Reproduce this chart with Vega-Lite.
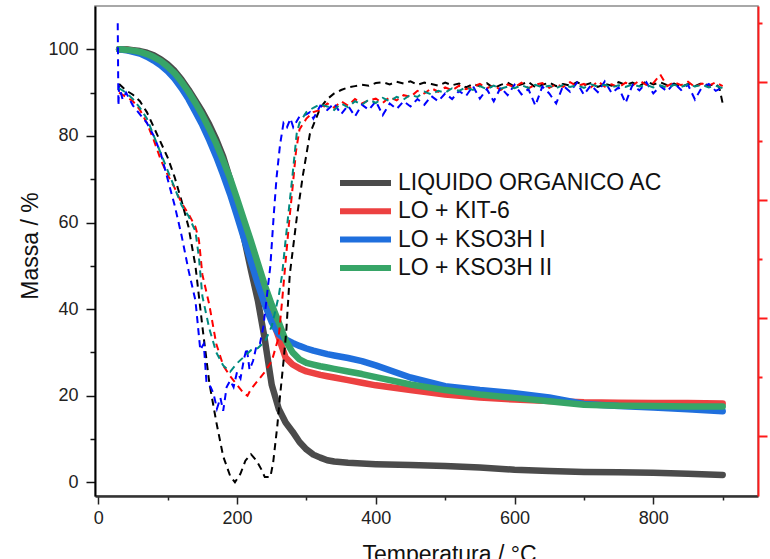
{
"$schema": "https://vega.github.io/schema/vega-lite/v6.json",
"width": 663, "height": 490,
"autosize": "none",
"padding": {"left": 95, "top": 6, "right": 12, "bottom": 63},
"background": "white",
"config": {"view": {"stroke": "#8c8c8c", "strokeWidth": 1.5}, "font": "Liberation Sans"},
"datasets": {
"tga": [
{"sample":"LIQUIDO ORGANICO AC","T":30,"mass":100},{"sample":"LIQUIDO ORGANICO AC","T":40,"mass":100},{"sample":"LIQUIDO ORGANICO AC","T":50,"mass":99.8},{"sample":"LIQUIDO ORGANICO AC","T":60,"mass":99.6},{"sample":"LIQUIDO ORGANICO AC","T":70,"mass":99.2},{"sample":"LIQUIDO ORGANICO AC","T":80,"mass":98.6},{"sample":"LIQUIDO ORGANICO AC","T":90,"mass":97.7},{"sample":"LIQUIDO ORGANICO AC","T":100,"mass":96.5},{"sample":"LIQUIDO ORGANICO AC","T":110,"mass":95},{"sample":"LIQUIDO ORGANICO AC","T":120,"mass":93},{"sample":"LIQUIDO ORGANICO AC","T":130,"mass":90.7},{"sample":"LIQUIDO ORGANICO AC","T":140,"mass":88.2},{"sample":"LIQUIDO ORGANICO AC","T":150,"mass":85.6},{"sample":"LIQUIDO ORGANICO AC","T":160,"mass":82.6},{"sample":"LIQUIDO ORGANICO AC","T":170,"mass":79.2},{"sample":"LIQUIDO ORGANICO AC","T":180,"mass":75.2},{"sample":"LIQUIDO ORGANICO AC","T":190,"mass":70},{"sample":"LIQUIDO ORGANICO AC","T":200,"mass":63.5},{"sample":"LIQUIDO ORGANICO AC","T":210,"mass":56.5},{"sample":"LIQUIDO ORGANICO AC","T":220,"mass":49},{"sample":"LIQUIDO ORGANICO AC","T":230,"mass":42},{"sample":"LIQUIDO ORGANICO AC","T":240,"mass":33},{"sample":"LIQUIDO ORGANICO AC","T":250,"mass":22.5},{"sample":"LIQUIDO ORGANICO AC","T":260,"mass":17},{"sample":"LIQUIDO ORGANICO AC","T":270,"mass":13.8},{"sample":"LIQUIDO ORGANICO AC","T":280,"mass":11.7},{"sample":"LIQUIDO ORGANICO AC","T":290,"mass":9.3},{"sample":"LIQUIDO ORGANICO AC","T":300,"mass":7.6},{"sample":"LIQUIDO ORGANICO AC","T":310,"mass":6.4},{"sample":"LIQUIDO ORGANICO AC","T":320,"mass":5.7},{"sample":"LIQUIDO ORGANICO AC","T":330,"mass":5.1},{"sample":"LIQUIDO ORGANICO AC","T":340,"mass":4.8},{"sample":"LIQUIDO ORGANICO AC","T":360,"mass":4.5},{"sample":"LIQUIDO ORGANICO AC","T":380,"mass":4.35},{"sample":"LIQUIDO ORGANICO AC","T":400,"mass":4.2},{"sample":"LIQUIDO ORGANICO AC","T":450,"mass":4.0},{"sample":"LIQUIDO ORGANICO AC","T":500,"mass":3.75},{"sample":"LIQUIDO ORGANICO AC","T":550,"mass":3.4},{"sample":"LIQUIDO ORGANICO AC","T":600,"mass":2.9},{"sample":"LIQUIDO ORGANICO AC","T":650,"mass":2.6},{"sample":"LIQUIDO ORGANICO AC","T":700,"mass":2.4},{"sample":"LIQUIDO ORGANICO AC","T":750,"mass":2.3},{"sample":"LIQUIDO ORGANICO AC","T":800,"mass":2.2},{"sample":"LIQUIDO ORGANICO AC","T":850,"mass":2.0},{"sample":"LIQUIDO ORGANICO AC","T":900,"mass":1.7},
{"sample":"LO + KIT-6","T":30,"mass":100},{"sample":"LO + KIT-6","T":40,"mass":99.9},{"sample":"LO + KIT-6","T":50,"mass":99.6},{"sample":"LO + KIT-6","T":60,"mass":99.3},{"sample":"LO + KIT-6","T":70,"mass":98.8},{"sample":"LO + KIT-6","T":80,"mass":98},{"sample":"LO + KIT-6","T":90,"mass":97},{"sample":"LO + KIT-6","T":100,"mass":95.6},{"sample":"LO + KIT-6","T":110,"mass":94},{"sample":"LO + KIT-6","T":120,"mass":92},{"sample":"LO + KIT-6","T":130,"mass":89.5},{"sample":"LO + KIT-6","T":140,"mass":86.8},{"sample":"LO + KIT-6","T":150,"mass":84},{"sample":"LO + KIT-6","T":160,"mass":80.5},{"sample":"LO + KIT-6","T":170,"mass":76.8},{"sample":"LO + KIT-6","T":180,"mass":72.5},{"sample":"LO + KIT-6","T":190,"mass":68},{"sample":"LO + KIT-6","T":200,"mass":63},{"sample":"LO + KIT-6","T":210,"mass":58},{"sample":"LO + KIT-6","T":220,"mass":53},{"sample":"LO + KIT-6","T":230,"mass":48},{"sample":"LO + KIT-6","T":240,"mass":43},{"sample":"LO + KIT-6","T":250,"mass":38},{"sample":"LO + KIT-6","T":260,"mass":33.5},{"sample":"LO + KIT-6","T":270,"mass":28.8},{"sample":"LO + KIT-6","T":280,"mass":27.2},{"sample":"LO + KIT-6","T":290,"mass":26.3},{"sample":"LO + KIT-6","T":300,"mass":25.6},{"sample":"LO + KIT-6","T":310,"mass":25.2},{"sample":"LO + KIT-6","T":320,"mass":24.8},{"sample":"LO + KIT-6","T":330,"mass":24.5},{"sample":"LO + KIT-6","T":340,"mass":24.2},{"sample":"LO + KIT-6","T":360,"mass":23.6},{"sample":"LO + KIT-6","T":380,"mass":23},{"sample":"LO + KIT-6","T":400,"mass":22.4},{"sample":"LO + KIT-6","T":450,"mass":21.3},{"sample":"LO + KIT-6","T":500,"mass":20.3},{"sample":"LO + KIT-6","T":550,"mass":19.6},{"sample":"LO + KIT-6","T":600,"mass":19.1},{"sample":"LO + KIT-6","T":650,"mass":18.8},{"sample":"LO + KIT-6","T":700,"mass":18.5},{"sample":"LO + KIT-6","T":750,"mass":18.4},{"sample":"LO + KIT-6","T":800,"mass":18.3},{"sample":"LO + KIT-6","T":850,"mass":18.3},{"sample":"LO + KIT-6","T":900,"mass":18.2},
{"sample":"LO + KSO3H I","T":30,"mass":100},{"sample":"LO + KSO3H I","T":40,"mass":99.8},{"sample":"LO + KSO3H I","T":50,"mass":99.4},{"sample":"LO + KSO3H I","T":60,"mass":99},{"sample":"LO + KSO3H I","T":70,"mass":98.3},{"sample":"LO + KSO3H I","T":80,"mass":97.4},{"sample":"LO + KSO3H I","T":90,"mass":96.3},{"sample":"LO + KSO3H I","T":100,"mass":94.9},{"sample":"LO + KSO3H I","T":110,"mass":93.2},{"sample":"LO + KSO3H I","T":120,"mass":91},{"sample":"LO + KSO3H I","T":130,"mass":88.5},{"sample":"LO + KSO3H I","T":140,"mass":85.5},{"sample":"LO + KSO3H I","T":150,"mass":82.5},{"sample":"LO + KSO3H I","T":160,"mass":79},{"sample":"LO + KSO3H I","T":170,"mass":75.2},{"sample":"LO + KSO3H I","T":180,"mass":71},{"sample":"LO + KSO3H I","T":190,"mass":66.5},{"sample":"LO + KSO3H I","T":200,"mass":61.5},{"sample":"LO + KSO3H I","T":210,"mass":56.3},{"sample":"LO + KSO3H I","T":220,"mass":51},{"sample":"LO + KSO3H I","T":230,"mass":45.8},{"sample":"LO + KSO3H I","T":240,"mass":41},{"sample":"LO + KSO3H I","T":250,"mass":37},{"sample":"LO + KSO3H I","T":260,"mass":34.2},{"sample":"LO + KSO3H I","T":270,"mass":33},{"sample":"LO + KSO3H I","T":280,"mass":32.2},{"sample":"LO + KSO3H I","T":290,"mass":31.5},{"sample":"LO + KSO3H I","T":300,"mass":30.9},{"sample":"LO + KSO3H I","T":310,"mass":30.4},{"sample":"LO + KSO3H I","T":320,"mass":30},{"sample":"LO + KSO3H I","T":330,"mass":29.6},{"sample":"LO + KSO3H I","T":340,"mass":29.3},{"sample":"LO + KSO3H I","T":360,"mass":28.7},{"sample":"LO + KSO3H I","T":380,"mass":28},{"sample":"LO + KSO3H I","T":400,"mass":27},{"sample":"LO + KSO3H I","T":450,"mass":24.2},{"sample":"LO + KSO3H I","T":500,"mass":22.2},{"sample":"LO + KSO3H I","T":550,"mass":21.3},{"sample":"LO + KSO3H I","T":600,"mass":20.6},{"sample":"LO + KSO3H I","T":650,"mass":19.6},{"sample":"LO + KSO3H I","T":700,"mass":18.1},{"sample":"LO + KSO3H I","T":750,"mass":17.6},{"sample":"LO + KSO3H I","T":800,"mass":17.3},{"sample":"LO + KSO3H I","T":850,"mass":16.9},{"sample":"LO + KSO3H I","T":900,"mass":16.4},
{"sample":"LO + KSO3H II","T":30,"mass":100},{"sample":"LO + KSO3H II","T":40,"mass":99.9},{"sample":"LO + KSO3H II","T":50,"mass":99.7},{"sample":"LO + KSO3H II","T":60,"mass":99.4},{"sample":"LO + KSO3H II","T":70,"mass":98.9},{"sample":"LO + KSO3H II","T":80,"mass":98.2},{"sample":"LO + KSO3H II","T":90,"mass":97.3},{"sample":"LO + KSO3H II","T":100,"mass":96},{"sample":"LO + KSO3H II","T":110,"mass":94.5},{"sample":"LO + KSO3H II","T":120,"mass":92.5},{"sample":"LO + KSO3H II","T":130,"mass":90.2},{"sample":"LO + KSO3H II","T":140,"mass":87.6},{"sample":"LO + KSO3H II","T":150,"mass":84.8},{"sample":"LO + KSO3H II","T":160,"mass":81.6},{"sample":"LO + KSO3H II","T":170,"mass":78.2},{"sample":"LO + KSO3H II","T":180,"mass":74.3},{"sample":"LO + KSO3H II","T":190,"mass":70.2},{"sample":"LO + KSO3H II","T":200,"mass":65.5},{"sample":"LO + KSO3H II","T":210,"mass":60.6},{"sample":"LO + KSO3H II","T":220,"mass":55.7},{"sample":"LO + KSO3H II","T":230,"mass":50.6},{"sample":"LO + KSO3H II","T":240,"mass":45.5},{"sample":"LO + KSO3H II","T":250,"mass":41},{"sample":"LO + KSO3H II","T":260,"mass":37},{"sample":"LO + KSO3H II","T":270,"mass":32.8},{"sample":"LO + KSO3H II","T":280,"mass":30},{"sample":"LO + KSO3H II","T":290,"mass":28.4},{"sample":"LO + KSO3H II","T":300,"mass":27.6},{"sample":"LO + KSO3H II","T":310,"mass":27.2},{"sample":"LO + KSO3H II","T":320,"mass":26.8},{"sample":"LO + KSO3H II","T":330,"mass":26.5},{"sample":"LO + KSO3H II","T":340,"mass":26.2},{"sample":"LO + KSO3H II","T":360,"mass":25.6},{"sample":"LO + KSO3H II","T":380,"mass":25},{"sample":"LO + KSO3H II","T":400,"mass":24.3},{"sample":"LO + KSO3H II","T":450,"mass":22.6},{"sample":"LO + KSO3H II","T":500,"mass":21.3},{"sample":"LO + KSO3H II","T":550,"mass":20.3},{"sample":"LO + KSO3H II","T":600,"mass":19.5},{"sample":"LO + KSO3H II","T":650,"mass":18.7},{"sample":"LO + KSO3H II","T":700,"mass":17.9},{"sample":"LO + KSO3H II","T":750,"mass":17.7},{"sample":"LO + KSO3H II","T":800,"mass":17.6},{"sample":"LO + KSO3H II","T":850,"mass":17.5},{"sample":"LO + KSO3H II","T":900,"mass":17.5}
],
"dtg": [
{"s":"K","T":30,"d":92},{"s":"K","T":40,"d":90.5},{"s":"K","T":50,"d":89.5},{"s":"K","T":60,"d":88},{"s":"K","T":70,"d":85.5},{"s":"K","T":80,"d":82},{"s":"K","T":90,"d":78.5},{"s":"K","T":100,"d":75},{"s":"K","T":110,"d":70.5},{"s":"K","T":120,"d":65},{"s":"K","T":130,"d":59},{"s":"K","T":140,"d":50},{"s":"K","T":150,"d":36},{"s":"K","T":160,"d":23},{"s":"K","T":170,"d":14},{"s":"K","T":180,"d":6},{"s":"K","T":190,"d":1.5},{"s":"K","T":197,"d":0},{"s":"K","T":205,"d":2},{"s":"K","T":212,"d":5},{"s":"K","T":220,"d":6.5},{"s":"K","T":228,"d":5},{"s":"K","T":235,"d":3},{"s":"K","T":240,"d":1.2},{"s":"K","T":248,"d":1.2},{"s":"K","T":252,"d":4.5},{"s":"K","T":258,"d":13},{"s":"K","T":262,"d":20},{"s":"K","T":267,"d":28},{"s":"K","T":271,"d":35},{"s":"K","T":276,"d":48},{"s":"K","T":286,"d":61},{"s":"K","T":295,"d":71},{"s":"K","T":305,"d":80.5},{"s":"K","T":320,"d":86.5},{"s":"K","T":330,"d":88.5},{"s":"K","T":340,"d":89.8},{"s":"K","T":350,"d":90.6},{"s":"K","T":360,"d":91.2},{"s":"K","T":370,"d":91.5},{"s":"K","T":380,"d":91.8},{"s":"K","T":390,"d":91.6},{"s":"K","T":400,"d":92.2},{"s":"K","T":410,"d":92.4},{"s":"K","T":420,"d":91.9},{"s":"K","T":430,"d":92.5},{"s":"K","T":440,"d":92.1},{"s":"K","T":450,"d":92.6},{"s":"K","T":460,"d":91.8},{"s":"K","T":470,"d":92.3},{"s":"K","T":480,"d":92},{"s":"K","T":490,"d":91.6},{"s":"K","T":500,"d":92.3},{"s":"K","T":510,"d":91.7},{"s":"K","T":520,"d":92.1},{"s":"K","T":530,"d":91.2},{"s":"K","T":540,"d":92},{"s":"K","T":550,"d":91.5},{"s":"K","T":560,"d":92.2},{"s":"K","T":570,"d":91},{"s":"K","T":580,"d":91.8},{"s":"K","T":590,"d":92.3},{"s":"K","T":600,"d":91.4},{"s":"K","T":610,"d":91.9},{"s":"K","T":620,"d":92.5},{"s":"K","T":630,"d":91.2},{"s":"K","T":640,"d":91.8},{"s":"K","T":650,"d":92.3},{"s":"K","T":660,"d":91.5},{"s":"K","T":670,"d":92},{"s":"K","T":680,"d":91.6},{"s":"K","T":690,"d":92.4},{"s":"K","T":700,"d":91.7},{"s":"K","T":710,"d":92.2},{"s":"K","T":720,"d":91.3},{"s":"K","T":730,"d":92},{"s":"K","T":740,"d":91.6},{"s":"K","T":750,"d":92.4},{"s":"K","T":760,"d":91.8},{"s":"K","T":770,"d":92.3},{"s":"K","T":780,"d":91.5},{"s":"K","T":790,"d":92.6},{"s":"K","T":800,"d":91.9},{"s":"K","T":810,"d":92.4},{"s":"K","T":820,"d":91.7},{"s":"K","T":830,"d":92.1},{"s":"K","T":840,"d":91.3},{"s":"K","T":850,"d":92},{"s":"K","T":860,"d":91.5},{"s":"K","T":870,"d":92.2},{"s":"K","T":880,"d":91.6},{"s":"K","T":890,"d":92},{"s":"K","T":895,"d":91.2},{"s":"K","T":900,"d":87.5},
{"s":"R","T":30,"d":90},{"s":"R","T":40,"d":89},{"s":"R","T":50,"d":88},{"s":"R","T":60,"d":86},{"s":"R","T":70,"d":83},{"s":"R","T":80,"d":79},{"s":"R","T":90,"d":74.5},{"s":"R","T":100,"d":71},{"s":"R","T":110,"d":68},{"s":"R","T":120,"d":64.5},{"s":"R","T":130,"d":62},{"s":"R","T":140,"d":59},{"s":"R","T":145,"d":56},{"s":"R","T":150,"d":48},{"s":"R","T":160,"d":41},{"s":"R","T":170,"d":32},{"s":"R","T":180,"d":27},{"s":"R","T":190,"d":24.5},{"s":"R","T":200,"d":22.5},{"s":"R","T":210,"d":20.5},{"s":"R","T":215,"d":20},{"s":"R","T":220,"d":21.5},{"s":"R","T":230,"d":23.5},{"s":"R","T":240,"d":25.5},{"s":"R","T":250,"d":28},{"s":"R","T":260,"d":33.5},{"s":"R","T":265,"d":42},{"s":"R","T":270,"d":51},{"s":"R","T":275,"d":60},{"s":"R","T":280,"d":68},{"s":"R","T":285,"d":76.5},{"s":"R","T":290,"d":81.5},{"s":"R","T":300,"d":84},{"s":"R","T":310,"d":85.5},{"s":"R","T":320,"d":86},{"s":"R","T":330,"d":87.5},{"s":"R","T":340,"d":86.5},{"s":"R","T":350,"d":88},{"s":"R","T":360,"d":87},{"s":"R","T":370,"d":88.5},{"s":"R","T":380,"d":87.5},{"s":"R","T":390,"d":88.2},{"s":"R","T":400,"d":88.6},{"s":"R","T":410,"d":87.6},{"s":"R","T":420,"d":89},{"s":"R","T":430,"d":88.2},{"s":"R","T":440,"d":89.4},{"s":"R","T":450,"d":89},{"s":"R","T":460,"d":90.4},{"s":"R","T":470,"d":89.8},{"s":"R","T":480,"d":91},{"s":"R","T":490,"d":90.2},{"s":"R","T":500,"d":91.2},{"s":"R","T":510,"d":90.5},{"s":"R","T":520,"d":91.6},{"s":"R","T":530,"d":90.8},{"s":"R","T":540,"d":91.4},{"s":"R","T":550,"d":92},{"s":"R","T":560,"d":91},{"s":"R","T":570,"d":91.7},{"s":"R","T":580,"d":90.6},{"s":"R","T":590,"d":91.9},{"s":"R","T":600,"d":91.2},{"s":"R","T":610,"d":92.3},{"s":"R","T":620,"d":91},{"s":"R","T":630,"d":91.8},{"s":"R","T":640,"d":92.2},{"s":"R","T":650,"d":91.1},{"s":"R","T":660,"d":91.9},{"s":"R","T":670,"d":91.3},{"s":"R","T":680,"d":92.4},{"s":"R","T":690,"d":91.5},{"s":"R","T":700,"d":92},{"s":"R","T":710,"d":91.2},{"s":"R","T":720,"d":92.6},{"s":"R","T":730,"d":91.4},{"s":"R","T":740,"d":91.9},{"s":"R","T":750,"d":91.2},{"s":"R","T":760,"d":92.3},{"s":"R","T":770,"d":91.6},{"s":"R","T":780,"d":92.8},{"s":"R","T":790,"d":91.8},{"s":"R","T":800,"d":92.2},{"s":"R","T":810,"d":94.2},{"s":"R","T":820,"d":91.5},{"s":"R","T":830,"d":92.4},{"s":"R","T":840,"d":91.7},{"s":"R","T":850,"d":92.5},{"s":"R","T":860,"d":91.3},{"s":"R","T":870,"d":92.1},{"s":"R","T":880,"d":91.6},{"s":"R","T":890,"d":92.4},{"s":"R","T":900,"d":91.5},
{"s":"B","T":28,"d":106},{"s":"B","T":29,"d":87},{"s":"B","T":30,"d":91.5},{"s":"B","T":35,"d":88.5},{"s":"B","T":40,"d":90},{"s":"B","T":50,"d":87},{"s":"B","T":60,"d":85},{"s":"B","T":70,"d":83},{"s":"B","T":80,"d":80},{"s":"B","T":90,"d":76},{"s":"B","T":100,"d":70},{"s":"B","T":110,"d":64},{"s":"B","T":120,"d":57},{"s":"B","T":130,"d":49},{"s":"B","T":140,"d":42},{"s":"B","T":147,"d":30.6},{"s":"B","T":152,"d":32},{"s":"B","T":156,"d":23},{"s":"B","T":162,"d":22},{"s":"B","T":166,"d":20.5},{"s":"B","T":171,"d":17},{"s":"B","T":176,"d":19.5},{"s":"B","T":180,"d":16.5},{"s":"B","T":185,"d":22},{"s":"B","T":190,"d":23.5},{"s":"B","T":195,"d":22},{"s":"B","T":200,"d":25.5},{"s":"B","T":205,"d":24},{"s":"B","T":210,"d":28.5},{"s":"B","T":214,"d":31},{"s":"B","T":218,"d":26},{"s":"B","T":223,"d":28},{"s":"B","T":228,"d":31.5},{"s":"B","T":233,"d":32},{"s":"B","T":238,"d":36},{"s":"B","T":243,"d":43},{"s":"B","T":248,"d":50},{"s":"B","T":253,"d":62},{"s":"B","T":257,"d":70.5},{"s":"B","T":262,"d":78},{"s":"B","T":267,"d":83},{"s":"B","T":272,"d":82},{"s":"B","T":277,"d":84},{"s":"B","T":281,"d":82},{"s":"B","T":290,"d":84.5},{"s":"B","T":300,"d":85},{"s":"B","T":305,"d":85.5},{"s":"B","T":310,"d":84},{"s":"B","T":320,"d":87},{"s":"B","T":330,"d":86},{"s":"B","T":340,"d":87.5},{"s":"B","T":350,"d":85},{"s":"B","T":360,"d":87},{"s":"B","T":370,"d":84.5},{"s":"B","T":380,"d":87.2},{"s":"B","T":390,"d":86},{"s":"B","T":400,"d":88},{"s":"B","T":410,"d":84.8},{"s":"B","T":420,"d":87.5},{"s":"B","T":430,"d":86.2},{"s":"B","T":440,"d":88},{"s":"B","T":450,"d":86.8},{"s":"B","T":460,"d":88.5},{"s":"B","T":470,"d":87.2},{"s":"B","T":480,"d":89.2},{"s":"B","T":490,"d":88},{"s":"B","T":500,"d":89.8},{"s":"B","T":510,"d":88.5},{"s":"B","T":520,"d":90.4},{"s":"B","T":530,"d":89.2},{"s":"B","T":540,"d":91.5},{"s":"B","T":550,"d":88.6},{"s":"B","T":560,"d":90.8},{"s":"B","T":570,"d":88},{"s":"B","T":580,"d":91.2},{"s":"B","T":590,"d":89.4},{"s":"B","T":600,"d":91.8},{"s":"B","T":610,"d":89.6},{"s":"B","T":620,"d":90.8},{"s":"B","T":630,"d":87},{"s":"B","T":640,"d":91.4},{"s":"B","T":650,"d":89.8},{"s":"B","T":660,"d":87.5},{"s":"B","T":670,"d":91.6},{"s":"B","T":680,"d":90.2},{"s":"B","T":690,"d":92.3},{"s":"B","T":700,"d":89.5},{"s":"B","T":710,"d":91.7},{"s":"B","T":720,"d":90.1},{"s":"B","T":730,"d":92.6},{"s":"B","T":740,"d":89.9},{"s":"B","T":750,"d":91.2},{"s":"B","T":760,"d":87.6},{"s":"B","T":770,"d":91.8},{"s":"B","T":780,"d":90.5},{"s":"B","T":790,"d":92.4},{"s":"B","T":800,"d":89.8},{"s":"B","T":810,"d":91.5},{"s":"B","T":820,"d":90.3},{"s":"B","T":830,"d":92.2},{"s":"B","T":840,"d":90.6},{"s":"B","T":850,"d":91.8},{"s":"B","T":860,"d":88.4},{"s":"B","T":870,"d":91.2},{"s":"B","T":880,"d":92},{"s":"B","T":890,"d":90.4},{"s":"B","T":900,"d":91.2},
{"s":"G","T":30,"d":91},{"s":"G","T":40,"d":90},{"s":"G","T":50,"d":88.5},{"s":"G","T":60,"d":86.5},{"s":"G","T":70,"d":84},{"s":"G","T":80,"d":80},{"s":"G","T":90,"d":76},{"s":"G","T":100,"d":72},{"s":"G","T":110,"d":68},{"s":"G","T":120,"d":64},{"s":"G","T":130,"d":61.5},{"s":"G","T":140,"d":58},{"s":"G","T":145,"d":52},{"s":"G","T":150,"d":43},{"s":"G","T":160,"d":35.5},{"s":"G","T":170,"d":30},{"s":"G","T":180,"d":27},{"s":"G","T":190,"d":25.5},{"s":"G","T":200,"d":27.5},{"s":"G","T":210,"d":29},{"s":"G","T":220,"d":30.5},{"s":"G","T":230,"d":31},{"s":"G","T":240,"d":32.5},{"s":"G","T":250,"d":36},{"s":"G","T":255,"d":39.5},{"s":"G","T":260,"d":43},{"s":"G","T":265,"d":48},{"s":"G","T":270,"d":56},{"s":"G","T":276,"d":65},{"s":"G","T":280,"d":71},{"s":"G","T":286,"d":80.6},{"s":"G","T":290,"d":83},{"s":"G","T":300,"d":85.5},{"s":"G","T":310,"d":86.5},{"s":"G","T":320,"d":87.3},{"s":"G","T":330,"d":86.8},{"s":"G","T":340,"d":86},{"s":"G","T":350,"d":87.5},{"s":"G","T":360,"d":86.6},{"s":"G","T":370,"d":88},{"s":"G","T":380,"d":87.2},{"s":"G","T":390,"d":88.4},{"s":"G","T":400,"d":87.6},{"s":"G","T":410,"d":88.8},{"s":"G","T":420,"d":88},{"s":"G","T":430,"d":89},{"s":"G","T":440,"d":88.4},{"s":"G","T":450,"d":89.5},{"s":"G","T":460,"d":89},{"s":"G","T":470,"d":90.2},{"s":"G","T":480,"d":89.6},{"s":"G","T":490,"d":90.4},{"s":"G","T":500,"d":90},{"s":"G","T":510,"d":91},{"s":"G","T":520,"d":90.4},{"s":"G","T":530,"d":91.2},{"s":"G","T":540,"d":90.6},{"s":"G","T":550,"d":91.5},{"s":"G","T":560,"d":90.8},{"s":"G","T":570,"d":91.6},{"s":"G","T":580,"d":90.9},{"s":"G","T":590,"d":91.4},{"s":"G","T":600,"d":91},{"s":"G","T":610,"d":91.7},{"s":"G","T":620,"d":91.1},{"s":"G","T":630,"d":91.8},{"s":"G","T":640,"d":91.2},{"s":"G","T":650,"d":91.6},{"s":"G","T":660,"d":91},{"s":"G","T":670,"d":91.8},{"s":"G","T":680,"d":91.3},{"s":"G","T":690,"d":91.7},{"s":"G","T":700,"d":91.1},{"s":"G","T":710,"d":91.9},{"s":"G","T":720,"d":91.4},{"s":"G","T":730,"d":91.8},{"s":"G","T":740,"d":91.2},{"s":"G","T":750,"d":91.7},{"s":"G","T":760,"d":91.3},{"s":"G","T":770,"d":91.9},{"s":"G","T":780,"d":91.4},{"s":"G","T":790,"d":91.8},{"s":"G","T":800,"d":91.2},{"s":"G","T":810,"d":91.7},{"s":"G","T":820,"d":91.1},{"s":"G","T":830,"d":91.8},{"s":"G","T":840,"d":91.3},{"s":"G","T":850,"d":91.9},{"s":"G","T":860,"d":91.4},{"s":"G","T":870,"d":91.8},{"s":"G","T":880,"d":91.2},{"s":"G","T":890,"d":91.6},{"s":"G","T":900,"d":91}
]
},
"layer": [
{
"data": {"name": "tga"},
"mark": {"type": "line", "strokeWidth": 6.5, "strokeCap": "round", "strokeJoin": "round"},
"encoding": {
"x": {"field": "T", "type": "quantitative",
 "scale": {"domain": [-4.76, 950.9], "nice": false, "zero": false},
 "axis": {"values": [0,100,200,300,400,500,600,700,800,900],
  "labelExpr": "datum.value % 200 == 0 ? datum.label : ''",
  "tickSize": {"condition": {"test": "datum.value % 200 == 0", "value": 8}, "value": 4},
  "grid": false, "domainColor": "#333333", "domainWidth": 2.5, "tickColor": "#222222", "tickWidth": 1.5,
  "labelFont": "Liberation Sans", "labelFontSize": 18, "labelColor": "#222222", "labelPadding": 5,
  "labelOverlap": false, "labelFlush": false,
  "title": "Temperatura / °C", "titleFont": "Liberation Sans", "titleFontSize": 23, "titleFontWeight": "normal",
  "titleColor": "#111111", "titleX": 354, "titleY": 65.5, "titleBaseline": "alphabetic", "titleAlign": "center"}},
"y": {"field": "mass", "type": "quantitative",
 "scale": {"domain": [-3.16, 110], "nice": false, "zero": false},
 "axis": {"values": [0,10,20,30,40,50,60,70,80,90,100],
  "labelExpr": "datum.value % 20 == 0 ? datum.label : ''",
  "tickSize": {"condition": {"test": "datum.value % 20 == 0", "value": 9}, "value": 5},
  "grid": false, "domainColor": "#000000", "domainWidth": 2, "tickColor": "#111111", "tickWidth": 1.5,
  "labelFont": "Liberation Sans", "labelFontSize": 18, "labelColor": "#222222", "labelPadding": 8,
  "labelOverlap": false, "labelFlush": false,
  "title": "Massa / %", "titleFont": "Liberation Sans", "titleFontSize": 23, "titleFontWeight": "normal",
  "titleColor": "#111111", "titleX": -58, "titleY": 239.5, "titleBaseline": "alphabetic", "titleAlign": "center", "titleAngle": -90}},
"color": {"field": "sample", "type": "nominal",
 "scale": {"domain": ["LIQUIDO ORGANICO AC", "LO + KIT-6", "LO + KSO3H I", "LO + KSO3H II"],
  "range": ["#4b4b4b", "#ec4141", "#1f6fdd", "#37a567"]},
 "legend": {"orient": "none", "legendX": 242, "legendY": 163, "title": null, "padding": 0,
  "symbolType": "stroke", "symbolSize": 2601, "symbolStrokeWidth": 6, "clipHeight": 28, "rowPadding": 0.3,
  "labelFont": "Liberation Sans", "labelFontSize": 23, "labelColor": "#111111", "labelOffset": 4, "labelLimit": 400}},
"order": {"field": "T", "type": "quantitative"}
}
},
{
"data": {"name": "dtg"},
"mark": {"type": "line", "strokeWidth": 2, "strokeDash": [7, 5]},
"encoding": {
"x": {"field": "T", "type": "quantitative"},
"y": {"field": "d", "type": "quantitative",
 "scale": {"domain": [-3.16, 110], "nice": false, "zero": false},
 "axis": {"orient": "right", "values": [10.62, 24.25, 37.88, 51.5, 65.13, 78.75, 92.38, 106],
  "labels": false, "title": null, "grid": false,
  "domainColor": "#ff1a1a", "domainWidth": 2, "tickColor": "#ff1a1a", "tickWidth": 2,
  "tickSize": {"condition": {"test": "datum.value < 11 || (datum.value > 37 && datum.value < 38) || (datum.value > 65 && datum.value < 66) || (datum.value > 92 && datum.value < 93)", "value": 9}, "value": 4}}},
"color": {"field": "s", "type": "nominal",
 "scale": {"domain": ["K", "R", "B", "G"], "range": ["#000000", "#ff0000", "#0000ff", "#008b80"]},
 "legend": null},
"order": {"field": "T", "type": "quantitative"}
}
}
],
"resolve": {"scale": {"y": "independent", "color": "independent"}}
}
